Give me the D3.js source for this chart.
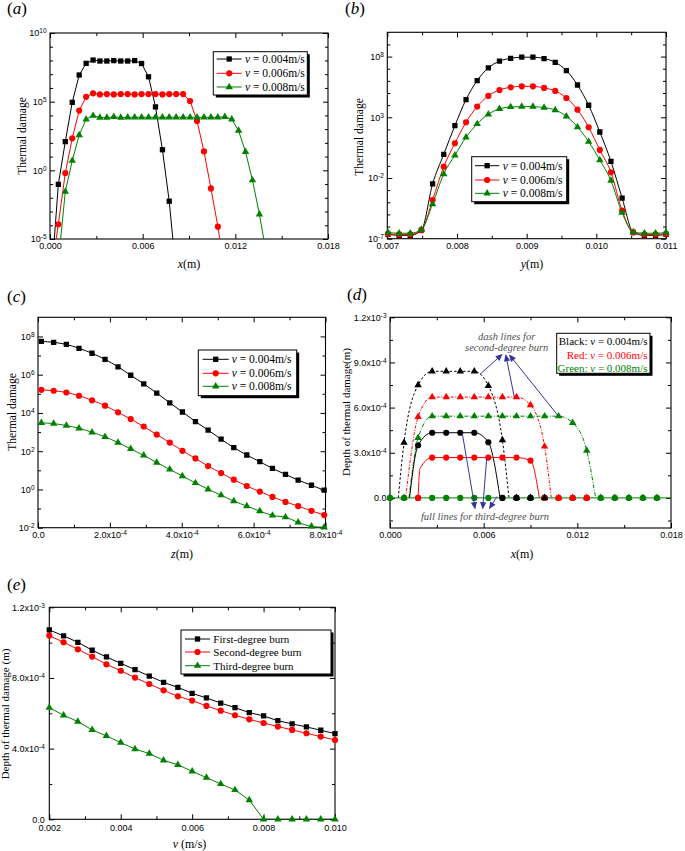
<!DOCTYPE html>
<html><head><meta charset="utf-8">
<script src="https://cdn.jsdelivr.net/npm/d3@7"></script>
<style>body{margin:0;background:#fff}</style>
</head><body>
<script>
// ---------------- DATA ----------------
// (a) thermal damage vs x (values are log10 of thermal damage, read from the log axis)
const aX = [0.00009,0.00054,0.00099,0.00144,0.00189,0.00234,0.00279,0.00323,0.00368,0.00413,0.00458,0.00503,0.00548,0.00593,0.00638,0.00683,0.00728,0.00772,0.00817,0.00862,0.00907,0.00952,0.00997,0.01042,0.01087,0.01132,0.01177,0.01221,0.01266,0.01311,0.01356,0.01401];
const aBlackLog = [-7.9,-1.02,2.09,4.95,6.94,7.79,8.03,7.96,7.96,7.99,7.96,7.96,7.99,7.78,6.81,4.62,1.50,-2.25,-7.5,null,null,null,null,null,null,null,null,null,null,null,null,null];
const aRedLog = [-7.4,-3.93,-0.20,2.33,4.35,5.35,5.61,5.53,5.55,5.53,5.55,5.55,5.53,5.55,5.55,5.55,5.53,5.55,5.55,5.55,5.05,3.59,1.38,-1.32,-4.1,-7.4,null,null,null,null,null,null];
const aGreenLog = [null,-6.7,-1.55,0.70,2.57,3.71,3.98,3.84,3.84,3.90,3.84,3.86,3.86,3.86,3.86,3.86,3.86,3.86,3.86,3.86,3.86,3.86,3.86,3.86,3.86,3.90,3.72,2.89,1.35,-0.72,-3.2,-6.1];
const aXTicks = [0,0.006,0.012,0.018], aXMinor = [0.003,0.009,0.015], aXLabels = ['0.000','0.006','0.012','0.018'];
const aYTicks = [1e-5,1,1e5,1e10], aYMinor = [1e-4,1e-3,1e-2,1e-1,10,100,1e3,1e4,1e6,1e7,1e8,1e9], aYLabels = ['10^-5','10^0','10^5','10^10'];

// (b) thermal damage vs y (log10 values)
const bX = [0.00701,0.00717,0.00733,0.00749,0.00765,0.00781,0.00797,0.00813,0.00829,0.00845,0.00861,0.00877,0.00893,0.00909,0.00925,0.00941,0.00957,0.00973,0.00989,0.01005,0.01021,0.01037,0.01053,0.01069,0.01085,0.011];
const bBlackLog = [-6.65,-6.72,-6.72,-6.3,-2.49,-0.05,2.31,4.46,6.02,7.07,7.62,7.86,7.95,7.95,7.84,7.53,6.85,5.66,3.99,1.79,-0.63,-3.65,-6.48,-6.72,-6.72,-6.65];
const bRedLog = [-6.6,-6.65,-6.65,-6.3,-3.81,-1.07,0.86,2.59,3.88,4.76,5.25,5.47,5.55,5.55,5.42,5.17,4.59,3.63,2.18,0.31,-1.53,-4.69,-6.48,-6.65,-6.65,-6.6];
const bGreenLog = [-6.5,-6.55,-6.55,-6.25,-4.14,-1.67,-0.13,1.35,2.45,3.25,3.69,3.85,3.88,3.88,3.80,3.60,3.08,2.20,0.99,-0.52,-2.22,-4.86,-6.45,-6.55,-6.55,-6.5];
const bXTicks = [0.007,0.008,0.009,0.010,0.011], bXMinor = [0.0075,0.0085,0.0095,0.0105], bXLabels = ['0.007','0.008','0.009','0.010','0.011'];
const bYTicks = [1e-7,1e-2,1e3,1e8], bYMinor = [1e-6,1e-5,1e-4,1e-3,1e-1,1,10,100,1e4,1e5,1e6,1e7,1e9], bYLabels = ['10^-7','10^-2','10^3','10^8'];

// (c) thermal damage vs z (log10 values)
const cX = [9.3e-6,4.36e-5,7.89e-5,1.141e-4,1.503e-4,1.865e-4,2.227e-4,2.580e-4,2.942e-4,3.304e-4,3.666e-4,4.019e-4,4.381e-4,4.733e-4,5.095e-4,5.448e-4,5.810e-4,6.172e-4,6.524e-4,6.886e-4,7.239e-4,7.610e-4,7.963e-4];
const cBlackLog = [7.74,7.69,7.58,7.38,7.12,6.80,6.41,5.97,5.52,5.04,4.53,4.05,3.55,3.10,2.63,2.19,1.80,1.45,1.10,0.79,0.49,0.22,-0.04];
const cRedLog = [5.21,5.16,5.07,4.90,4.66,4.38,4.03,3.68,3.29,2.87,2.45,2.02,1.62,1.22,0.86,0.51,0.18,-0.11,-0.39,-0.65,-0.87,-1.12,-1.34];
const cGreenLog = [3.48,3.44,3.34,3.20,2.99,2.75,2.45,2.12,1.78,1.41,1.05,0.70,0.34,0.01,-0.30,-0.61,-0.87,-1.13,-1.36,-1.45,-1.72,-1.93,-1.98];
const cXTicks = [0,2e-4,4e-4,6e-4,8e-4], cXMinor = [1e-4,3e-4,5e-4,7e-4], cXLabels = ['0.0','2.0x10^-4','4.0x10^-4','6.0x10^-4','8.0x10^-4'];
const cYTicks = [1e-2,1,1e2,1e4,1e6,1e8], cYMinor = [1e-1,10,1e3,1e5,1e7], cYLabels = ['10^-2','10^0','10^2','10^4','10^6','10^8'];

// (d) depth of thermal damage vs x (null = no marker shown for that series there)
const dX = [0,0.0009,0.0018,0.0027,0.0036,0.0045,0.0054,0.0063,0.0072,0.0081,0.009,0.0099,0.0108,0.0117,0.0126,0.0135,0.0144,0.0153,0.0162,0.0171];
const dBlackSecond = [null,3.68e-4,7.50e-4,8.41e-4,8.41e-4,8.41e-4,8.41e-4,7.45e-4,3.84e-4,0,0,0,null,null,null,null,null,null,null,null];
const dRedSecond = [null,null,5.39e-4,6.70e-4,6.70e-4,6.70e-4,6.70e-4,6.70e-4,6.70e-4,6.70e-4,6.17e-4,3.42e-4,0,0,0,null,null,null,null,null];
const dGreenSecond = [0,0,3.99e-4,5.43e-4,5.43e-4,5.43e-4,5.43e-4,5.43e-4,5.43e-4,5.43e-4,5.43e-4,5.43e-4,5.43e-4,4.99e-4,3.15e-4,0,0,0,0,0];
const dBlackThird = [null,null,3.50e-4,4.33e-4,4.33e-4,4.33e-4,4.33e-4,3.70e-4,0,0,0,0,null,null,null,null,null,null,null,null];
const dRedThird = [null,null,0,2.68e-4,2.68e-4,2.68e-4,2.68e-4,2.68e-4,2.68e-4,2.68e-4,2.48e-4,0,0,0,0,null,null,null,null,null];
const dGreenThird = [0,0,0,0,0,0,0,0,0,0,0,0,0,0,0,0,0,0,0,0];
// curve knots of the plotted lines (where they leave / reach zero)
const dBlackSecondLineX = [0.00053,0.0009,0.0018,0.0027,0.0036,0.0045,0.0054,0.0063,0.0072,0.00762];
const dBlackSecondLineY = [0,3.68e-4,7.50e-4,8.41e-4,8.41e-4,8.41e-4,8.41e-4,7.45e-4,3.84e-4,0];
const dRedSecondLineX = [0.0010,0.0018,0.0027,0.0036,0.0045,0.0054,0.0063,0.0072,0.0081,0.009,0.0099,0.01033];
const dRedSecondLineY = [0,5.39e-4,6.70e-4,6.70e-4,6.70e-4,6.70e-4,6.70e-4,6.70e-4,6.70e-4,6.17e-4,3.42e-4,0];
const dGreenSecondLineX = [0.00122,0.0018,0.0027,0.0036,0.0045,0.0054,0.0063,0.0072,0.0081,0.009,0.0099,0.0108,0.0117,0.0126,0.01317];
const dGreenSecondLineY = [0,3.99e-4,5.43e-4,5.43e-4,5.43e-4,5.43e-4,5.43e-4,5.43e-4,5.43e-4,5.43e-4,5.43e-4,5.43e-4,4.99e-4,3.15e-4,0];
const dBlackThirdLineX = [0.00125,0.0018,0.0027,0.0036,0.0045,0.0054,0.0063,0.00705];
const dBlackThirdLineY = [0,3.50e-4,4.33e-4,4.33e-4,4.33e-4,4.33e-4,3.70e-4,0];
const dRedThirdLineX = [0.0018,0.00192,0.0027,0.0036,0.0045,0.0054,0.0063,0.0072,0.0081,0.009,0.00957];
const dRedThirdLineY = [0,1.95e-4,2.68e-4,2.68e-4,2.68e-4,2.68e-4,2.68e-4,2.68e-4,2.68e-4,2.48e-4,0];
const dGreenThirdLineX = [0,0.018];
const dGreenThirdLineY = [0,0];
const dXTicks = [0,0.006,0.012,0.018], dXMinor = [0.003,0.009,0.015], dXLabels = ['0.000','0.006','0.012','0.018'];
const dYTicks = [0,3e-4,6e-4,9e-4,1.2e-3], dYMinor = [-1.5e-4,1.5e-4,4.5e-4,7.5e-4,1.05e-3], dYLabels = ['0.0','3.0x10^-4','6.0x10^-4','9.0x10^-4','1.2x10^-3'];

// (e) depth vs velocity
const eX = [0.002,0.0024,0.0028,0.0032,0.0036,0.004,0.0044,0.0048,0.0052,0.0056,0.006,0.0064,0.0068,0.0072,0.0076,0.008,0.0084,0.0088,0.0092,0.0096,0.010];
const eFirst = [1.072e-3,1.038e-3,1.002e-3,0.957e-3,0.919e-3,0.883e-3,0.847e-3,0.811e-3,0.775e-3,0.747e-3,0.713e-3,0.687e-3,0.658e-3,0.632e-3,0.604e-3,0.585e-3,0.558e-3,0.540e-3,0.523e-3,0.504e-3,0.485e-3];
const eSecond = [1.040e-3,1.002e-3,0.962e-3,0.921e-3,0.877e-3,0.841e-3,0.802e-3,0.766e-3,0.730e-3,0.696e-3,0.672e-3,0.642e-3,0.615e-3,0.589e-3,0.566e-3,0.545e-3,0.525e-3,0.506e-3,0.487e-3,0.468e-3,0.449e-3];
const eThird = [0.632e-3,0.589e-3,0.553e-3,0.506e-3,0.472e-3,0.434e-3,0.398e-3,0.372e-3,0.334e-3,0.308e-3,0.272e-3,0.236e-3,0.200e-3,0.166e-3,0.109e-3,0,0,0,0,0,0];
const eXTicks = [0.002,0.004,0.006,0.008,0.010], eXMinor = [0.003,0.005,0.007,0.009], eXLabels = ['0.002','0.004','0.006','0.008','0.010'];
const eYTicks = [0,4e-4,8e-4,1.2e-3], eYMinor = [2e-4,6e-4,1e-3], eYLabels = ['0.0','4.0x10^-4','8.0x10^-4','1.2x10^-3'];

const velocityLabels = ['0.004m/s','0.006m/s','0.008m/s'];
const burnLabels = ['First-degree burn','Second-degree burn','Third-degree burn'];

// ---------------- DRAWING ----------------
const SERIF = '"Liberation Serif","Times New Roman",serif';
const SANS = '"Liberation Sans",Arial,sans-serif';
const BLACK = '#000000', RED = '#ff0000', GREEN = '#008000', NAVY = '#34349c';
const SYM = {square:[d3.symbolSquare,28], circle:[d3.symbolCircle,30], triangle:[d3.symbolTriangle,24]};

const svg = d3.select('body').append('svg').attr('width',685).attr('height',851);
svg.append('rect').attr('width',685).attr('height',851).attr('fill','#fff');
const defs = svg.append('defs');
defs.append('marker').attr('id','arrow').attr('viewBox','0 0 10 10').attr('refX',9).attr('refY',5)
  .attr('markerWidth',8).attr('markerHeight',7).attr('markerUnits','userSpaceOnUse').attr('orient','auto')
  .append('path').attr('d','M0,0.5 L10,5 L0,9.5 Z').attr('fill',NAVY);

function richText(parent, x, y, segs, opts={}) {
  const t = parent.append('text').attr('x',x).attr('y',y)
    .attr('font-family', opts.family||SERIF).attr('font-size', opts.size||11)
    .attr('fill', opts.fill||'#000').attr('text-anchor', opts.anchor||'start');
  if (opts.rotate) t.attr('transform',`rotate(-90,${x},${y})`);
  if (opts.dy) t.attr('dy',opts.dy);
  segs.forEach(s => {
    const ts = t.append('tspan').text(s.t);
    if (s.i) ts.attr('font-style','italic');
    if (s.fill) ts.attr('fill',s.fill);
  });
  return t;
}

function supLabels(axisG) {
  axisG.selectAll('.tick text').each(function(){
    const t = d3.select(this); const s = t.text();
    if (!s.includes('^')) return;
    const [b,e] = s.split('^'); t.text(null);
    t.append('tspan').text(b);
    t.append('tspan').attr('dy','-0.45em').attr('font-size','6.5px').text(e);
  });
}

let clipId = 0;
function panel(p) {
  const x = d3.scaleLinear().domain(p.xDomain).range([p.L,p.R]);
  const y = (p.yLog ? d3.scaleLog() : d3.scaleLinear()).domain(p.yDomain).range([p.B,p.T]);
  const g = svg.append('g');
  const id = ++clipId;
  defs.append('clipPath').attr('id','lc'+id).append('rect')
    .attr('x',p.L).attr('y',p.T).attr('width',p.R-p.L).attr('height',p.B-p.T);
  defs.append('clipPath').attr('id','mc'+id).append('rect')
    .attr('x',p.L-4).attr('y',p.T-4).attr('width',p.R-p.L+8).attr('height',p.B-p.T+8);
  function side(axisFn, scale, major, minor, labels, tr, pad) {
    const a1 = g.append('g').attr('transform',tr).call(axisFn(scale).tickValues(major).tickSize(-5).tickPadding(pad)
      .tickFormat(labels ? (d,i)=>labels[i] : ()=>''));
    const a2 = g.append('g').attr('transform',tr).call(axisFn(scale).tickValues(minor).tickSize(-3).tickFormat(()=>''));
    [a1,a2].forEach(a => { a.select('.domain').remove(); a.attr('font-family',SANS).attr('font-size',9);
      a.selectAll('line').attr('stroke','#000').attr('stroke-width',1); a.selectAll('text').attr('fill','#000'); });
    supLabels(a1);
  }
  side(d3.axisBottom, x, p.xTicks, p.xMinor, p.xLabels, `translate(0,${p.B})`, p.xPad||3.5);
  side(d3.axisTop, x, p.xTicks, p.xMinor, null, `translate(0,${p.T})`, 3);
  side(d3.axisLeft, y, p.yTicks, p.yMinor, p.yLabels, `translate(${p.L},0)`, p.yPad||3.5);
  side(d3.axisRight, y, p.yTicks, p.yMinor, null, `translate(${p.R},0)`, 3);
  g.append('rect').attr('x',p.L).attr('y',p.T).attr('width',p.R-p.L).attr('height',p.B-p.T)
    .attr('fill','none').attr('stroke','#000').attr('stroke-width',1.1);
  const lines = g.append('g').attr('clip-path',`url(#lc${id})`);
  const marks = g.append('g').attr('clip-path',`url(#mc${id})`);
  return {x,y,g,lines,marks,p};
}

function drawLine(P, xs, ys, color, curve, dash) {
  const pts = xs.map((v,i)=>[v,ys[i]]).filter(d=>d[1]!=null);
  P.lines.append('path').attr('d', d3.line().x(d=>P.x(d[0])).y(d=>P.y(d[1])).curve(curve||d3.curveLinear)(pts))
    .attr('fill','none').attr('stroke',color).attr('stroke-width',1).attr('stroke-dasharray',dash||null);
}
function drawMarks(P, xs, ys, color, sym) {
  const pts = xs.map((v,i)=>[v,ys[i]]).filter(d=>d[1]!=null);
  const s = d3.symbol().type(SYM[sym][0]).size(SYM[sym][1]);
  P.marks.selectAll(null).data(pts).enter().append('path')
    .attr('transform',d=>`translate(${P.x(d[0])},${P.y(d[1])})`).attr('d',s).attr('fill',color);
}
const pow10 = arr => arr.map(v => v==null ? null : Math.pow(10,v));

function legend(bx, entries, lx1, lx2, tx, size) {
  svg.append('rect').attr('x',bx.x+2.5).attr('y',bx.y+2.5).attr('width',bx.w).attr('height',bx.h).attr('fill','#000');
  svg.append('rect').attr('x',bx.x).attr('y',bx.y).attr('width',bx.w).attr('height',bx.h).attr('fill','#fff').attr('stroke','#000').attr('stroke-width',1);
  entries.forEach(e => {
    svg.append('line').attr('x1',lx1).attr('x2',lx2).attr('y1',e.y).attr('y2',e.y).attr('stroke',e.color).attr('stroke-width',1);
    svg.append('path').attr('transform',`translate(${(lx1+lx2)/2},${e.y})`)
      .attr('d',d3.symbol().type(SYM[e.sym][0]).size(SYM[e.sym][1])).attr('fill',e.color);
    richText(svg, tx, e.y, e.segs, {size:size||11, dy:'0.35em'});
  });
}
const vSegs = lab => [{t:'ν',i:true},{t:' = '+lab}];
function panelLabel(x, y, letter) { richText(svg, x, y, [{t:'('},{t:letter,i:true},{t:')'}], {size:17}); }

// ----- (a)
{
  const P = panel({L:50,R:328,T:33,B:239,xDomain:[0,0.018],yDomain:[1e-5,1e10],yLog:true,
    xTicks:aXTicks,xMinor:aXMinor,xLabels:aXLabels,yTicks:aYTicks,yMinor:aYMinor,yLabels:aYLabels});
  [[aBlackLog,BLACK,'square'],[aRedLog,RED,'circle'],[aGreenLog,GREEN,'triangle']].forEach(([v,c,s]) => {
    const ys = pow10(v); drawLine(P,aX,ys,c); drawMarks(P,aX,ys,c,s);
  });
  legend({x:213.3,y:51.7,w:94,h:43.3},[
    {y:59,color:BLACK,sym:'square',segs:vSegs(velocityLabels[0])},
    {y:73.3,color:RED,sym:'circle',segs:vSegs(velocityLabels[1])},
    {y:87,color:GREEN,sym:'triangle',segs:vSegs(velocityLabels[2])}],216.7,241.7,245,11.5);
  panelLabel(7,14,'a');
  richText(svg,189,268,[{t:'x',i:true},{t:'(m)'}],{size:12,anchor:'middle'});
  richText(svg,25.5,136,[{t:'Thermal damage'}],{size:11.5,anchor:'middle',rotate:true});
}
// ----- (b)
{
  const P = panel({L:387.3,R:666,T:32.3,B:238.7,xDomain:[0.007,0.011],yDomain:[1e-7,1e10],yLog:true,
    xTicks:bXTicks,xMinor:bXMinor,xLabels:bXLabels,yTicks:bYTicks,yMinor:bYMinor,yLabels:bYLabels});
  [[bBlackLog,BLACK,'square'],[bRedLog,RED,'circle'],[bGreenLog,GREEN,'triangle']].forEach(([v,c,s]) => {
    const ys = pow10(v); drawLine(P,bX,ys,c,d3.curveMonotoneX); drawMarks(P,bX,ys,c,s);
  });
  legend({x:471.7,y:156.7,w:95,h:45},[
    {y:165.7,color:BLACK,sym:'square',segs:vSegs(velocityLabels[0])},
    {y:180,color:RED,sym:'circle',segs:vSegs(velocityLabels[1])},
    {y:193.3,color:GREEN,sym:'triangle',segs:vSegs(velocityLabels[2])}],475,499.3,502.7,11.5);
  panelLabel(345,14,'b');
  richText(svg,532,268,[{t:'y',i:true},{t:'(m)'}],{size:12,anchor:'middle'});
  richText(svg,363,137,[{t:'Thermal damage'}],{size:11.5,anchor:'middle',rotate:true});
}
// ----- (c)
{
  const P = panel({L:38,R:325.5,T:317.3,B:527.7,xDomain:[0,8e-4],yDomain:[1e-2,1e9],yLog:true,
    xTicks:cXTicks,xMinor:cXMinor,xLabels:cXLabels,yTicks:cYTicks,yMinor:cYMinor,yLabels:cYLabels});
  [[cBlackLog,BLACK,'square'],[cRedLog,RED,'circle'],[cGreenLog,GREEN,'triangle']].forEach(([v,c,s]) => {
    const ys = pow10(v); drawLine(P,cX,ys,c,d3.curveMonotoneX); drawMarks(P,cX,ys,c,s);
  });
  legend({x:198.3,y:350,w:98.4,h:45.7},[
    {y:359.3,color:BLACK,sym:'square',segs:vSegs(velocityLabels[0])},
    {y:373.3,color:RED,sym:'circle',segs:vSegs(velocityLabels[1])},
    {y:386.3,color:GREEN,sym:'triangle',segs:vSegs(velocityLabels[2])}],202.7,228.7,231.7,11.5);
  panelLabel(7,302,'c');
  richText(svg,182,558,[{t:'z',i:true},{t:'(m)'}],{size:12,anchor:'middle'});
  richText(svg,15.5,412,[{t:'Thermal damage'}],{size:11.5,anchor:'middle',rotate:true});
}
// ----- (d)
{
  const P = panel({L:390,R:671,T:317.3,B:528,xDomain:[0,0.018],yDomain:[-2e-4,1.2e-3],yLog:false,
    xTicks:dXTicks,xMinor:dXMinor,xLabels:dXLabels,yTicks:dYTicks,yMinor:dYMinor,yLabels:dYLabels});
  const mc = d3.curveMonotoneX;
  drawLine(P,dBlackSecondLineX,dBlackSecondLineY,BLACK,mc,'2.5,2');
  drawLine(P,dRedSecondLineX,dRedSecondLineY,RED,mc,'3,1.5,1,1.5');
  drawLine(P,dGreenSecondLineX,dGreenSecondLineY,GREEN,mc,'4,1.5,1,1.5');
  drawLine(P,dBlackThirdLineX,dBlackThirdLineY,BLACK,mc);
  drawLine(P,dRedThirdLineX,dRedThirdLineY,RED,mc);
  drawLine(P,dGreenThirdLineX,dGreenThirdLineY,GREEN,mc);
  drawMarks(P,dX,dGreenSecond,GREEN,'triangle');
  drawMarks(P,dX,dGreenThird,GREEN,'circle');
  drawMarks(P,dX,dBlackThird,BLACK,'circle');
  drawMarks(P,dX,dRedThird,RED,'circle');
  drawMarks(P,dX,dBlackSecond,BLACK,'triangle');
  drawMarks(P,dX,dRedSecond,RED,'triangle');
  // legend (text only)
  svg.append('rect').attr('x',559.2).attr('y',335.8).attr('width',93.3).attr('height',40).attr('fill','#000');
  svg.append('rect').attr('x',556.7).attr('y',333.3).attr('width',93.3).attr('height',40).attr('fill','#fff').attr('stroke','#000');
  [['Black: ',BLACK,340.9,velocityLabels[0]],['Red:  ',RED,355,velocityLabels[1]],['Green: ',GREEN,368.4,velocityLabels[2]]]
    .forEach(([pre,c,yy,lab]) => richText(svg,647.5,yy,[{t:pre,fill:c},{t:'ν',i:true,fill:c},{t:' = '+lab,fill:c}],
      {size:11,anchor:'end',dy:'0.35em'}));
  // annotations
  richText(svg,506.7,340,[{t:'dash lines for'}],{size:10.5,anchor:'middle',fill:'#505050'}).attr('font-style','italic');
  richText(svg,506.7,350.5,[{t:'second-degree burn'}],{size:10.5,anchor:'middle',fill:'#505050'}).attr('font-style','italic');
  richText(svg,485,520,[{t:'full lines for third-degree burn'}],{size:10.5,anchor:'middle',fill:'#505050'}).attr('font-style','italic');
  [[480,374.3,502,354.5],[514.3,397,505.8,355],[558.3,416,509.5,355],
   [462.3,433.3,475,508.5],[486.7,458.3,482.7,508.5],[497,496.5,489.5,508.5]].forEach(([x1,y1,x2,y2]) =>
    svg.append('line').attr('x1',x1).attr('y1',y1).attr('x2',x2).attr('y2',y2).attr('stroke',NAVY).attr('stroke-width',1)
      .attr('marker-end','url(#arrow)'));
  panelLabel(347,300,'d');
  richText(svg,522,558,[{t:'x',i:true},{t:'(m)'}],{size:12,anchor:'middle'});
  richText(svg,350,412,[{t:'Depth of thermal damage(m)'}],{size:11,anchor:'middle',rotate:true});
}
// ----- (e)
{
  const P = panel({L:49.3,R:335,T:607.3,B:819.3,xDomain:[0.002,0.010],yDomain:[0,1.2e-3],yLog:false,
    xTicks:eXTicks,xMinor:eXMinor,xLabels:eXLabels,yTicks:eYTicks,yMinor:eYMinor,yLabels:eYLabels,xPad:5.5,yPad:4.5});
  [[eFirst,BLACK,'square'],[eSecond,RED,'circle'],[eThird,GREEN,'triangle']].forEach(([v,c,s]) => {
    drawLine(P,eX,v,c); drawMarks(P,eX,v,c,s);
  });
  legend({x:181,y:630,w:150,h:44},[
    {y:639,color:BLACK,sym:'square',segs:[{t:burnLabels[0]}]},
    {y:652,color:RED,sym:'circle',segs:[{t:burnLabels[1]}]},
    {y:665.7,color:GREEN,sym:'triangle',segs:[{t:burnLabels[2]}]}],185,210,213.3,11);
  panelLabel(7,590,'e');
  richText(svg,189.5,848,[{t:'ν',i:true},{t:' (m/s)'}],{size:12,anchor:'middle'});
  richText(svg,9,714,[{t:'Depth of thermal damage (m)'}],{size:11,anchor:'middle',rotate:true});
}
</script>
</body></html>
